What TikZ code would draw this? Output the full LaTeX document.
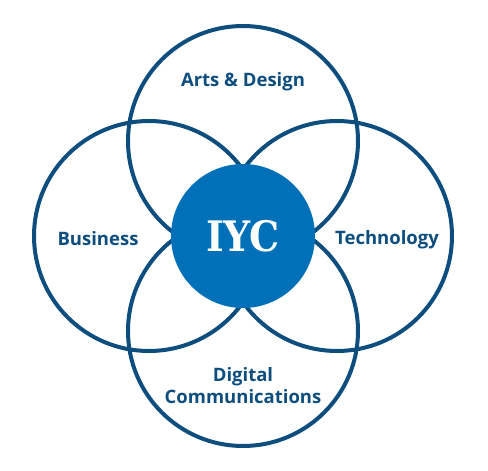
\documentclass[tikz,border=0pt]{standalone}
\usepackage{fontspec}
\setmainfont{Open Sans}
\newfontfamily\slabfont{DejaVu Serif Condensed}
\definecolor{iycdark}{HTML}{0D4E7F}
\definecolor{iycblue}{HTML}{0070B8}
\begin{document}
\begin{tikzpicture}[x=1pt,y=-1pt,
  ring/.style={circle,draw=iycdark,line width=4pt,minimum size=230pt,inner sep=0pt},
  area/.style={font=\fontsize{18.5}{22}\selectfont\bfseries,text=iycdark,align=center,anchor=base}]
\useasboundingbox (0,0) rectangle (488,471);
% the four rings
\node[ring] (arts) at (243,141) {};
\node[ring] (business) at (149,236) {};
\node[ring] (technology) at (337,236) {};
\node[ring] (digital) at (243,331) {};
%
\node[circle,fill=iycblue,minimum size=144pt,inner sep=0pt] (iyc) at (243,236) {};
\node[anchor=base,text=white,font=\slabfont\bfseries\fontsize{42}{42}\selectfont] (iyclabel) at (243,251) {IYC};
% labels
\node[area] (artslabel) at (243,86) {Arts \& Design};
\node[area] (businesslabel) at (98,245) {Business};
\node[area] (technologylabel) at (387,244) {Technology};
\node[area] (digitallabel) at (243,403) {Digital\\Communications};
\end{tikzpicture}
\end{document}
